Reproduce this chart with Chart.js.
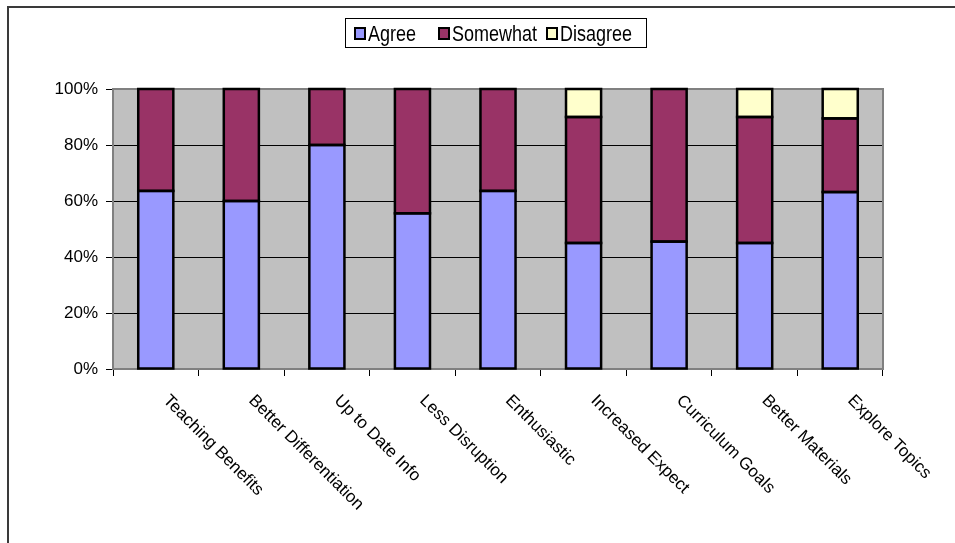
<!DOCTYPE html>
<html>
<head>
<meta charset="utf-8">
<script src="https://cdn.jsdelivr.net/npm/chart.js@4/dist/chart.umd.min.js"></script>
<style>
  html, body { margin: 0; padding: 0; background: #fff; }
  #wrap { position: relative; width: 955px; height: 543px; }
</style>
</head>
<body>
<div id="wrap"><canvas id="chart" width="955" height="543"></canvas></div>
<script>
// Survey responses per statement (percent of respondents)
const categories = [
  'Teaching Benefits', 'Better Differentiation', 'Up to Date Info', 'Less Disruption',
  'Enthusiastic', 'Increased Expect', 'Curriculum Goals', 'Better Materials', 'Explore Topics'
];
const agree     = [63.6, 60, 80, 55.6, 63.6, 45, 45.5, 45, 63.2];
const somewhat  = [36.4, 40, 20, 44.4, 36.4, 45, 54.5, 45, 26.3];
const disagree  = [0, 0, 0, 0, 0, 10, 0, 10, 10.5];
const seriesNames = ['Agree', 'Somewhat', 'Disagree'];
const seriesColors = ['#9999FF', '#993366', '#FFFFCC'];
const yTicks = [0, 20, 40, 60, 80, 100];

const FONT = '"Liberation Sans", Arial, sans-serif';

// Grey plot area with a darker frame, drawn beneath grid and bars
const plotFrame = {
  id: 'plotFrame',
  beforeDraw(chart) {
    const { ctx, chartArea: a } = chart;
    ctx.save();
    ctx.fillStyle = '#C0C0C0';
    ctx.fillRect(a.left, a.top, a.right - a.left, a.bottom - a.top);
    ctx.restore();
  },
  beforeDatasetsDraw(chart) {
    const { ctx, chartArea: a } = chart;
    ctx.save();
    ctx.strokeStyle = '#808080';
    ctx.lineWidth = 2;
    ctx.strokeRect(a.left, a.top, a.right - a.left, a.bottom - a.top);
    ctx.restore();
  }
};

// Black outline centred on every bar segment edge
const segmentOutline = {
  id: 'segmentOutline',
  afterDatasetsDraw(chart) {
    const { ctx } = chart;
    ctx.save();
    ctx.strokeStyle = '#000';
    ctx.lineWidth = 2.5;
    chart.data.datasets.forEach((ds, di) => {
      const meta = chart.getDatasetMeta(di);
      meta.data.forEach(bar => {
        const { x, y, base, width } = bar.getProps(['x', 'y', 'base', 'width'], true);
        const h = Math.abs(base - y);
        if (h < 0.5) return;
        ctx.strokeRect(x - width / 2, Math.min(y, base), width, h);
      });
    });
    ctx.restore();
  }
};

// Outer chart border (top and left edges)
const outerBorder = {
  id: 'outerBorder',
  afterDraw(chart) {
    const { ctx } = chart;
    ctx.save();
    ctx.strokeStyle = '#3a3a3a';
    ctx.lineWidth = 2;
    ctx.beginPath();
    ctx.moveTo(8, 543);
    ctx.lineTo(8, 7);
    ctx.lineTo(955, 7);
    ctx.stroke();
    ctx.restore();
  }
};

// Boxed legend above the plot
const boxedLegend = {
  id: 'boxedLegend',
  afterDraw(chart) {
    const { ctx } = chart;
    const left = 345, top = 18, width = 301, height = 29;
    const itemX = [355, 439, 547];
    ctx.save();
    ctx.strokeStyle = '#000';
    ctx.lineWidth = 1;
    ctx.strokeRect(left + 0.5, top + 0.5, width, height);
    ctx.font = '18px ' + FONT;
    ctx.textBaseline = 'alphabetic';
    ctx.textAlign = 'left';
    chart.data.datasets.forEach((ds, i) => {
      const x = itemX[i];
      ctx.fillStyle = ds.backgroundColor;
      ctx.fillRect(x, 28, 10, 11);
      ctx.strokeStyle = '#000';
      ctx.lineWidth = 2;
      ctx.strokeRect(x, 28, 10, 11);
      ctx.fillStyle = '#000';
      ctx.save();
      ctx.translate(x + 13, 41);
      ctx.scale(1, 1.25);
      ctx.fillText(ds.label, 0, 0);
      ctx.restore();
    });
    ctx.restore();
  }
};

// Category labels set at 45 degrees, reading downward from each bar
const slantedLabels = {
  id: 'slantedLabels',
  afterDraw(chart) {
    const { ctx } = chart;
    const xs = chart.scales.x;
    const y0 = xs.top + 23;
    ctx.save();
    ctx.font = '17px ' + FONT;
    ctx.fillStyle = '#000';
    ctx.textAlign = 'left';
    ctx.textBaseline = 'top';
    chart.data.labels.forEach((lab, i) => {
      const x = xs.getPixelForValue(i) + 16;
      ctx.save();
      ctx.translate(x, y0);
      ctx.rotate(Math.PI / 4);
      ctx.fillText(lab, 0, 0);
      ctx.restore();
    });
    ctx.restore();
  }
};

const values = [agree, somewhat, disagree];
const datasets = seriesNames.map((name, k) => ({
  label: name,
  data: values[k],
  backgroundColor: seriesColors[k],
  borderWidth: 0,
  inflateAmount: 0,
  categoryPercentage: 1,
  barPercentage: 0.41
}));

new Chart(document.getElementById('chart'), {
  type: 'bar',
  data: { labels: categories, datasets },
  plugins: [plotFrame, segmentOutline, outerBorder, boxedLegend, slantedLabels],
  options: {
    responsive: false,
    animation: false,
    devicePixelRatio: 1,
    layout: { padding: { top: 89, right: 72, left: 0, bottom: 0 } },
    plugins: { legend: { display: false }, tooltip: { enabled: false } },
    scales: {
      x: {
        stacked: true,
        grid: { offset: true, drawOnChartArea: false, drawTicks: true, tickLength: 7, tickColor: '#000' },
        border: { display: true, color: '#202020', width: 2 },
        ticks: { display: false },
        afterFit(scale) { scale.height = 174; }
      },
      y: {
        stacked: true,
        min: 0,
        max: 100,
        afterBuildTicks(scale) { scale.ticks = yTicks.map(v => ({ value: v })); },
        ticks: {
          color: '#000',
          font: { family: FONT, size: 17 },
          padding: 8,
          callback: v => v + '%'
        },
        grid: {
          color: ctx => (ctx.tick && (ctx.tick.value === 100 || ctx.tick.value === 0)) ? 'rgba(0,0,0,0)' : '#000',
          lineWidth: 1,
          tickLength: 7,
          tickColor: '#000',
          drawTicks: true
        },
        border: { display: false },
        afterFit(scale) { scale.width = 113; }
      }
    }
  }
});
</script>
</body>
</html>
